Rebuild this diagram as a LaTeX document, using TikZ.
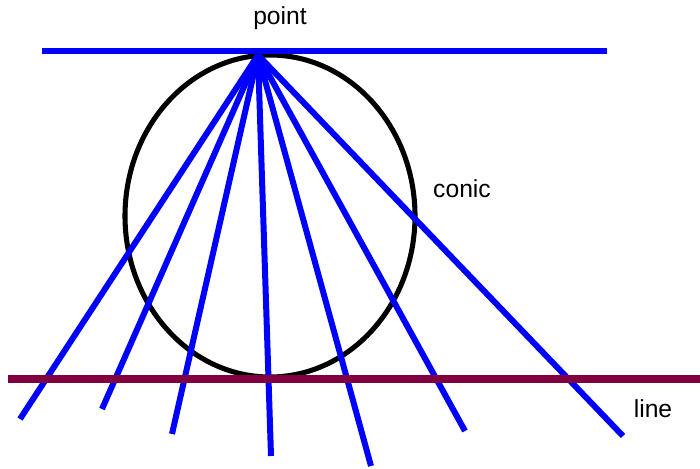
\documentclass[tikz,border=0pt]{standalone}
\usepackage{fontspec}
\setmainfont{Liberation Sans}
\definecolor{lineRed}{RGB}{128,0,64}

\begin{document}
\begin{tikzpicture}[x=0.75pt,y=-0.75pt,ray/.style={draw=blue,line width=4.5pt},label node/.style={font=\fontsize{18.5}{21}\selectfont,inner sep=0pt}]
        \useasboundingbox (0,0) rectangle (700,468);

        % the conic
        \draw[line width=3.8pt] (270,216) ellipse[x radius=145, y radius=161];

        \coordinate (p) at (258,55);
        \coordinate (t1) at (42,51);
        \coordinate (t2) at (607,51);
        \coordinate (l1) at (8,379);
        \coordinate (l2) at (700,379);

        \coordinate (1) at (20,419);
        \coordinate (2) at (102,409);
        \coordinate (3) at (172,434);
        \coordinate (4) at (271,456);
        \coordinate (5) at (371,466);
        \coordinate (6) at (465,431);
        \coordinate (7) at (623,436);

        \path[ray] (t1) -- (t2);
        \foreach \i in {1,...,7}
            \path[ray] (p) -- (\i);

        \draw[lineRed,line width=5.5pt] (l1) -- (l2);

        \node[label node] (point) at (280,18) {point};
        \node[label node] (conic) at (462,189) {conic};
        \node[label node] (line) at (653,409) {line};
    \end{tikzpicture}
\end{document}
